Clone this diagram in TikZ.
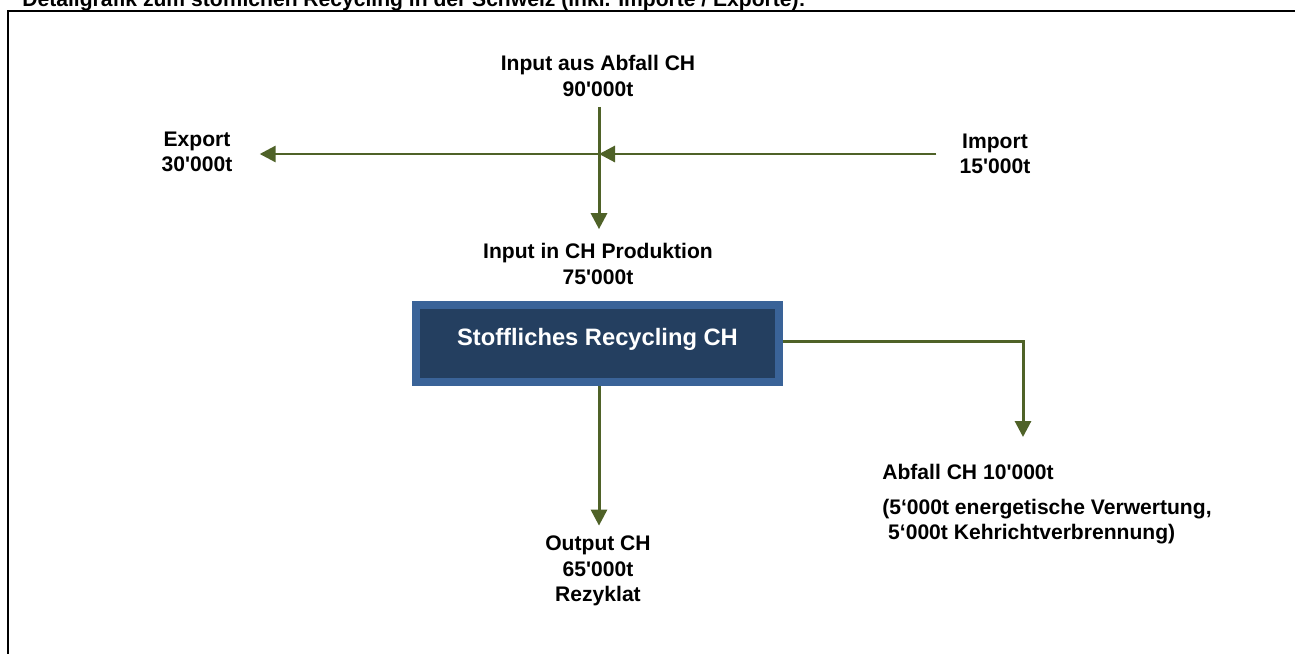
\documentclass[tikz,border=0pt]{standalone}
\usepackage{fontspec}
\setmainfont{Liberation Sans}[Ligatures = TeXOff]
\usepackage{tikz}
\usetikzlibrary{arrows}
\usetikzlibrary{arrows.meta}
\usetikzlibrary{positioning}
\definecolor{flowgreen}{HTML}{4F6228}
\definecolor{boxblue}{HTML}{3A6398}
\definecolor{boxnavy}{HTML}{243F60}
\tikzset{flow/.style = {draw = flowgreen, line width = 1.7pt, -{Triangle[length = 0.32cm, width = 0.32cm]}}}
\tikzset{lbl/.style = {font = \fontsize{12}{14.5}\selectfont\bfseries, align = center, inner sep = 0}}
\tikzset{recbox/.style = {draw = boxblue, line width = 0.16cm, fill = boxnavy, text = white,
    font = \fontsize{13.5}{16}\selectfont\bfseries, minimum width = 7.26cm, minimum height = 1.54cm,
    text height = 0.34cm, text depth = 0.26cm}}

\begin{document}
\begin{tikzpicture}[x = 0.02cm, y = -0.02cm]
    \useasboundingbox (0, 0) rectangle (1295, 653);
    \node [lbl, anchor = base west] (title) at (22, 6) {\fontsize{12}{14}\selectfont Detailgrafik zum stofflichen Recycling in der Schweiz (inkl. Importe / Exporte):};
    \draw [line width = 1.5pt] (8, 700) -- (8, 11) -- (1320, 11);
    \node [lbl] (abfallin) at (598, 76) {Input aus Abfall CH\\90'000t};
    \node [lbl] (prodin) at (598, 264) {Input in CH Produktion\\75'000t};
    \node [lbl] (export) at (197, 152) {Export\\30'000t};
    \node [lbl] (import) at (995, 154) {Import\\15'000t};
    \node [recbox] (rec) at (597.5, 343.5) {Stoffliches Recycling CH};
    \node [lbl] (output) at (598, 571) {Output CH\\65'000t\\Rezyklat};
    \node [lbl, anchor = north west, align = left] (abfall) at (882, 464) {Abfall CH 10'000t\\[0.18cm](5‘000t energetische Verwertung,\\\ 5‘000t Kehrichtverbrennung)};
    \coordinate (mix) at (599, 154);
    \coordinate (abfalltip) at (1023, 437);
    \draw [flow, shorten < = 0.2cm, shorten > = 0.28cm] (abfallin.south -| mix) -- (prodin.north -| mix);
    \draw [flow, shorten < = 0.46cm] (import.west |- mix) -- (mix);
    \draw [flow, shorten > = 0.54cm] (mix) -- (export.east |- mix);
    \draw [flow, shorten > = 0.2cm] (rec.south -| mix) -- (output.north -| mix);
    \draw [flow] ([yshift = 0.05cm]rec.east) -| (abfalltip);
\end{tikzpicture}
\end{document}
